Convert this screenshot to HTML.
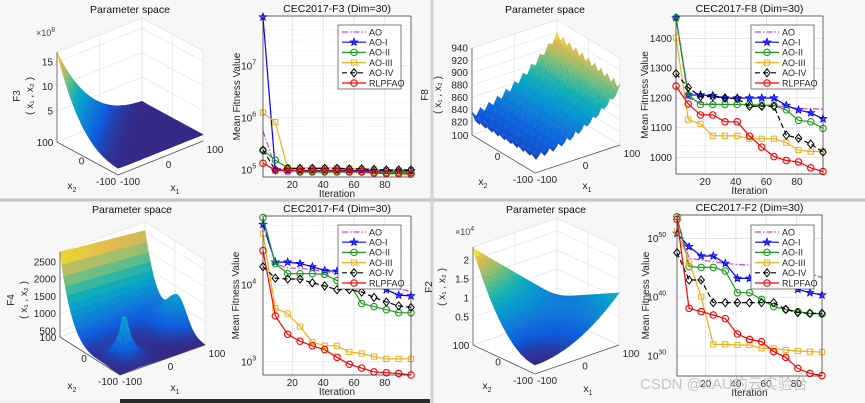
<!DOCTYPE html>
<html><head><meta charset="utf-8"><style>
html,body{margin:0;padding:0;background:#f0f0f0;}
svg{display:block;font-family:"Liberation Sans","Noto Sans CJK SC",sans-serif;}
</style></head><body>
<svg id="chart" width="865" height="403" viewBox="0 0 865 403" xmlns="http://www.w3.org/2000/svg">
<rect x="0" y="0" width="865" height="403" fill="#f2f2f2"/>
<rect x="0" y="0" width="430" height="198" fill="#f7f7f7"/>
<rect x="434" y="0" width="431" height="198" fill="#f7f7f7"/>
<rect x="0" y="203" width="430" height="196" fill="#f7f7f7"/>
<rect x="434" y="203" width="431" height="200" fill="#f7f7f7"/>
<line x1="0" y1="200" x2="865" y2="200" stroke="#c4c4c4" stroke-width="3"/>
<line x1="432" y1="0" x2="432" y2="403" stroke="#d4d4d4" stroke-width="3"/>
<rect x="120" y="399" width="310" height="4" fill="#2a2a2a"/>
</svg>
<script>
// ---------- convergence data (log10 of mean fitness for log charts) ----------
const ITER=[1,9,17,25,33,41,49,57,65,73,81,89,97];
const SERIES_NAMES=['AO','AO-I','AO-II','AO-III','AO-IV','RLPFAO'];
// F3 (log10)
const f3AO  =[5.75,5.05,5.00,4.98,4.98,4.98,4.98,4.98,4.97,4.97,4.96,4.96,4.96];
const f3AOI =[7.94,5.00,4.99,4.99,4.99,4.99,4.99,4.99,4.99,4.98,4.98,4.98,4.98];
const f3AOII=[5.38,5.19,5.04,4.96,4.96,4.96,4.96,4.96,4.96,4.96,4.95,4.95,4.95];
const f3AOIII=[6.10,5.92,5.02,5.04,5.04,5.04,5.04,5.03,5.02,5.01,5.00,5.00,5.00];
const f3AOIV=[5.38,5.00,5.03,5.03,5.03,5.03,5.03,5.02,5.02,5.01,5.00,5.00,5.00];
const f3RL  =[5.13,5.00,4.98,4.98,4.98,4.98,4.98,4.97,4.97,4.94,4.93,4.93,4.92];
const f3Ticks=[5,6,7];
// F8 (linear)
const f8AO  =[1470,1200,1185,1180,1178,1178,1175,1175,1175,1170,1165,1163,1163];
const f8AOI =[1470,1210,1210,1208,1200,1200,1200,1200,1200,1175,1160,1150,1130];
const f8AOII=[1470,1210,1178,1178,1178,1178,1178,1175,1175,1160,1125,1120,1098];
const f8AOIII=[1403,1127,1113,1073,1073,1073,1063,1063,1063,1050,1025,1020,1020];
const f8AOIV=[1282,1235,1205,1205,1200,1198,1172,1172,1172,1075,1065,1045,1018];
const f8RL  =[1240,1180,1143,1143,1120,1120,1072,1035,1003,990,985,965,953];
const f8Ticks=[1000,1100,1200,1300,1400];
// F4 (log10)
const f4AO  =[4.80,4.28,4.22,4.22,4.20,4.18,4.15,4.12,4.10,4.05,4.00,3.95,3.92];
const f4AOI =[4.79,4.30,4.30,4.28,4.24,4.19,4.18,4.13,4.06,4.00,3.94,3.87,3.86];
const f4AOII=[4.88,4.28,4.15,4.15,4.15,4.14,4.06,4.02,3.76,3.72,3.68,3.64,3.64];
const f4AOIII=[4.67,3.70,3.63,3.46,3.26,3.21,3.21,3.13,3.11,3.07,3.04,3.04,3.04];
const f4AOIV=[4.24,4.09,4.08,4.08,4.03,3.99,3.94,3.94,3.91,3.84,3.78,3.73,3.71];
const f4RL  =[4.45,3.60,3.36,3.27,3.21,3.16,3.06,2.97,2.92,2.87,2.86,2.85,2.83];
const f4Ticks=[3,4];
// F2 (log10)
const f2AO  =[53.40,46.60,46.32,46.03,45.75,45.58,45.47,45.47,45.18,44.90,44.62,44.05,43.37];
const f2AOI =[50.85,48.58,47.00,47.00,45.75,43.20,43.20,42.92,42.63,42.07,41.33,40.76,40.37];
const f2AOII=[53.68,45.18,45.07,45.07,44.45,40.76,40.76,39.63,38.39,37.93,37.54,37.25,37.14];
const f2AOIII=[51.13,46.03,40.08,31.98,31.98,31.87,31.87,31.30,31.30,31.02,30.85,30.74,30.68];
const f2AOIV=[47.56,42.92,42.92,39.07,39.07,39.07,39.07,39.07,39.07,37.93,37.37,37.25,37.25];
const f2RL  =[53.23,38.10,37.54,36.97,36.35,33.74,32.83,32.44,30.74,29.77,27.90,27.05,26.66];
const f2Ticks=[30,40,50];
const XTICKS=[20,40,60,80];

const NS='http://www.w3.org/2000/svg';
const svg=document.getElementById('chart');
function mk(tag,attrs,parent){const e=document.createElementNS(NS,tag);for(const k in attrs)e.setAttribute(k,attrs[k]);(parent||svg).appendChild(e);return e;}
function txt(s,x,y,opts,parent){const e=mk('text',Object.assign({x:x,y:y,'font-size':10,fill:'#262626'},opts||{}),parent);e.textContent=s;return e;}
function sub(e,base,s){e.textContent='';const t1=document.createElementNS(NS,'tspan');t1.textContent=base;e.appendChild(t1);const t2=document.createElementNS(NS,'tspan');t2.setAttribute('font-size','7');t2.setAttribute('dy','3');t2.textContent=s;e.appendChild(t2);}

const STYLE=[
 {c:'#e040e0',dash:'6,2,1.5,2',m:null},
 {c:'#0000ff',dash:null,m:'star'},
 {c:'#1e9a1e',dash:null,m:'circle'},
 {c:'#edb120',dash:null,m:'square'},
 {c:'#000000',dash:'5,3',m:'diamond'},
 {c:'#ff0000',dash:null,m:'circle'}
];
function marker(type,x,y,c,g){
  let e=null;
  if(type==='circle'){e=mk('circle',{cx:x,cy:y,r:3.2,fill:'none',stroke:c,'stroke-width':1.1},g);}
  else if(type==='square'){e=mk('rect',{x:x-2.6,y:y-2.6,width:5.2,height:5.2,fill:'none',stroke:c,'stroke-width':1},g);}
  else if(type==='diamond'){e=mk('polygon',{points:`${x},${y-4} ${x+3.2},${y} ${x},${y+4} ${x-3.2},${y}`,fill:'none',stroke:c,'stroke-width':1},g);}
  else if(type==='star'){let p=[];for(let i=0;i<10;i++){const r=i%2?1.6:3.8;const a=-Math.PI/2+i*Math.PI/5;p.push((x+r*Math.cos(a)).toFixed(1)+','+(y+r*Math.sin(a)).toFixed(1));}
    e=mk('polygon',{points:p.join(' '),fill:c,'fill-opacity':0.5,stroke:c,'stroke-width':0.9},g);}
  if(e){
  }
}

function conv(cfg){
  const g=mk('g',{});
  
  
  const X=v=>cfg.px0+(v-1)/(96)*(cfg.px1-cfg.px0);
  const Y=v=>cfg.py1-(v-cfg.ymin)/(cfg.ymax-cfg.ymin)*(cfg.py1-cfg.py0);
  const bg=mk('rect',{x:cfg.px0,y:cfg.py0,width:cfg.px1-cfg.px0,height:cfg.py1-cfg.py0,fill:'#fff'},g);
  
  
  const minors=[];
  if(cfg.log){for(let d=Math.floor(cfg.ymin);d<cfg.ymax;d+=cfg.minorStep){ if(cfg.minorStep===1){for(let k=2;k<10;k++)minors.push(d+Math.log10(k));} else minors.push(d+cfg.minorStep/2);} }
  else{for(let v=900;v<1500;v+=20)minors.push(v);}
  minors.forEach(v=>{if(v>cfg.ymin&&v<cfg.ymax){const l=mk('line',{x1:cfg.px0,x2:cfg.px1,y1:Y(v),y2:Y(v),stroke:'#e4e4e4','stroke-width':0.6,'stroke-dasharray':'1,1.5'},g);
    
    }});
  cfg.yticks.forEach(v=>{const l=mk('line',{x1:cfg.px0,x2:cfg.px1,y1:Y(v),y2:Y(v),stroke:'#dcdcdc','stroke-width':0.7},g);
    
    
    const t=txt(cfg.log?'10':String(v),cfg.px0-4-(cfg.log?String(v).length*4:0),Y(v)+3.5,{'text-anchor':'end'},g);
    
    
    if(cfg.log){const ts=document.createElementNS(NS,'tspan');ts.setAttribute('font-size','7');ts.setAttribute('dy','-5');ts.textContent=String(v);t.appendChild(ts);t.setAttribute('x',cfg.px0-3-String(v).length*3.9);}
  });
  XTICKS.forEach(v=>{const l=mk('line',{x1:X(v),x2:X(v),y1:cfg.py0,y2:cfg.py1,stroke:'#dcdcdc','stroke-width':0.7},g);
    
    
    const t=txt(String(v),X(v),cfg.py1+11,{'text-anchor':'middle'},g);
    
    });
  cfg.series.forEach((arr,si)=>{
    const st=STYLE[si];
    const pts=arr.map((v,i)=>X(ITER[i]).toFixed(1)+','+Y(v).toFixed(1)).join(' ');
    const pl=mk('polyline',{points:pts,fill:'none',stroke:st.c,'stroke-width':1.2},g);
    if(st.dash)pl.setAttribute('stroke-dasharray',st.dash);
    
    
    if(st.m)arr.forEach((v,i)=>marker(st.m,X(ITER[i]),Y(v),st.c,g));
  });
  const fr=mk('rect',{x:cfg.px0,y:cfg.py0,width:cfg.px1-cfg.px0,height:cfg.py1-cfg.py0,fill:'none',stroke:'#262626','stroke-width':0.7},g);
  
  
  const tt=txt(cfg.title,(cfg.px0+cfg.px1)/2,cfg.py0-4,{'text-anchor':'middle','font-size':10.5,fill:'#111'},g);
  
  
  const xl=txt('Iteration',(cfg.px0+cfg.px1)/2,cfg.py1+20,{'text-anchor':'middle','font-size':10},g);
  
  
  const yl=txt('Mean Fitness Value',0,0,{'text-anchor':'middle','font-size':10,transform:`translate(${cfg.ylx},${(cfg.py0+cfg.py1)/2}) rotate(-90)`},g);
  
  
  const lg=mk('g',{},g);
  
  
  const lb=mk('rect',{x:cfg.lx,y:cfg.ly,width:63,height:64,fill:'#fff',stroke:'#262626','stroke-width':0.6},lg);
  
  
  SERIES_NAMES.forEach((n,i)=>{const st=STYLE[i];const yy=cfg.ly+7+i*10.2;
    const ln=mk('line',{x1:cfg.lx+4,x2:cfg.lx+28,y1:yy,y2:yy,stroke:st.c,'stroke-width':1.2},lg);
    if(st.dash)ln.setAttribute('stroke-dasharray',st.dash);
    
    
    if(st.m)marker(st.m,cfg.lx+16,yy,st.c,lg);
    const t=txt(n,cfg.lx+31,yy+3.3,{'font-size':9},lg);
    
    });
}

conv({name:'f3-convergence-chart',title:'CEC2017-F3 (Dim=30)',px0:263,px1:411,py0:16,py1:177,ymin:4.865,ymax:7.96,log:true,minorStep:1,yticks:f3Ticks,ylx:240,lx:338,ly:25,series:[f3AO,f3AOI,f3AOII,f3AOIII,f3AOIV,f3RL]});
conv({name:'f8-convergence-chart',title:'CEC2017-F8 (Dim=30)',px0:676,px1:823,py0:16,py1:174,ymin:944.5,ymax:1475.6,log:false,yticks:f8Ticks,ylx:648,lx:751,ly:25,series:[f8AO,f8AOI,f8AOII,f8AOIII,f8AOIV,f8RL]});
conv({name:'f4-convergence-chart',title:'CEC2017-F4 (Dim=30)',px0:263,px1:411,py0:216,py1:375,ymin:2.83,ymax:4.9,log:true,minorStep:1,yticks:f4Ticks,ylx:239,lx:338,ly:225,series:[f4AO,f4AOI,f4AOII,f4AOIII,f4AOIV,f4RL]});
conv({name:'f2-convergence-chart',title:'CEC2017-F2 (Dim=30)',px0:677,px1:822,py0:215,py1:376,ymin:26.6,ymax:53.97,log:true,minorStep:10,yticks:f2Ticks,ylx:649,lx:751,ly:225,series:[f2AO,f2AOI,f2AOII,f2AOIII,f2AOIV,f2RL]});

// ---------- 3D surfaces ----------
const PARULA=[[0,53,42,135],[0.125,15,92,221],[0.25,18,125,216],[0.375,7,156,207],[0.5,21,177,180],[0.625,89,189,140],[0.75,165,190,107],[0.875,225,185,82],[1,249,251,14]];
function parula(t){t=Math.max(0,Math.min(1,t));for(let i=1;i<PARULA.length;i++){if(t<=PARULA[i][0]){const a=PARULA[i-1],b=PARULA[i];const u=(t-a[0])/(b[0]-a[0]);return `rgb(${Math.round(a[1]+u*(b[1]-a[1]))},${Math.round(a[2]+u*(b[2]-a[2]))},${Math.round(a[3]+u*(b[3]-a[3]))})`;}}return 'rgb(249,251,14)';}

function surf(cfg){
  const g=mk('g',{});
  
  
  const L=cfg.L,B=cfg.B,R=cfg.R,K=[L[0]+R[0]-B[0],L[1]+R[1]-B[1]];
  const gp=(a,b)=>[B[0]+a*(R[0]-B[0])+b*(L[0]-B[0]),B[1]+a*(R[1]-B[1])+b*(L[1]-B[1])];
  const P=(a,b,z)=>{const p=gp(a,b);return [p[0],p[1]-(z-cfg.zfloor)*cfg.k];};
  const H=cfg.H;
  const w1=mk('polygon',{points:`${L[0]},${L[1]} ${K[0]},${K[1]} ${K[0]},${K[1]-H} ${L[0]},${L[1]-H}`,fill:'#fff',stroke:'#e2e2e2','stroke-width':0.7},g);
  
  
  const w2=mk('polygon',{points:`${K[0]},${K[1]} ${R[0]},${R[1]} ${R[0]},${R[1]-H} ${K[0]},${K[1]-H}`,fill:'#fff',stroke:'#e2e2e2','stroke-width':0.7},g);
  
  
  const fl=mk('polygon',{points:`${L[0]},${L[1]} ${K[0]},${K[1]} ${R[0]},${R[1]} ${B[0]},${B[1]}`,fill:'#fff',stroke:'#e2e2e2','stroke-width':0.7},g);
  
  
  cfg.zticks.forEach(z=>{const dy=(z-cfg.zfloor)*cfg.k;
    const gl=mk('polyline',{points:`${L[0]},${L[1]-dy} ${K[0]},${K[1]-dy} ${R[0]},${R[1]-dy}`,fill:'none',stroke:'#e6e6e6','stroke-width':0.7},g);
    
    
    const t=txt(cfg.zfmt(z),L[0]-4,L[1]-dy+3.5,{'text-anchor':'end'},g);
    
    });
  const m1=gp(0.5,1),m2=gp(1,0.5);
  const v1=mk('line',{x1:m1[0],y1:m1[1],x2:m1[0],y2:m1[1]-H,stroke:'#e6e6e6','stroke-width':0.7},g);
  
  
  const v2=mk('line',{x1:m2[0],y1:m2[1],x2:m2[0],y2:m2[1]-H,stroke:'#e6e6e6','stroke-width':0.7},g);
  
  
  const N=cfg.N;const Z=[];let zmin=1e9,zmax=-1e9;
  for(let i=0;i<=N;i++){Z.push([]);for(let j=0;j<=N;j++){const z=cfg.f(i/N,j/N);Z[i].push(z);zmin=Math.min(zmin,z);zmax=Math.max(zmax,z);}}
  const sg=mk('g',{},g);
  
  
  for(let s=2*N-2;s>=0;s--){for(let i=0;i<N;i++){const j=s-i;if(j<0||j>=N)continue;
    const c=[[i,j],[i+1,j],[i+1,j+1],[i,j+1]].map(q=>P(q[0]/N,q[1]/N,Z[q[0]][q[1]]));
    const zav=(Z[i][j]+Z[i+1][j]+Z[i+1][j+1]+Z[i][j+1])/4;
    const col=parula((zav-zmin)/(zmax-zmin));
    const q=mk('polygon',{points:c.map(p=>p[0].toFixed(1)+','+p[1].toFixed(1)).join(' '),fill:col,stroke:col,'stroke-width':0.6},sg);
    
    }}
  const ax=mk('polyline',{points:`${L[0]},${L[1]-H} ${L[0]},${L[1]} ${B[0]},${B[1]} ${R[0]},${R[1]}`,fill:'none',stroke:'#555','stroke-width':0.8},g);
  
  
  const lab=[['100',gp(0,1),-12,4],['0',gp(0,0.5),-6,6],['-100',gp(0,0),-12,10],['-100',gp(0,0),12,10],['0',gp(0.5,0),8,10],['100',gp(1,0),12,12]];
  lab.forEach(l=>{const t=txt(l[0],l[1][0]+l[2],l[1][1]+l[3],{'text-anchor':'middle'},g);
    
    });
  const x2=txt('',cfg.x2p[0],cfg.x2p[1],{'text-anchor':'middle','font-size':10.5},g);sub(x2,'x','2');
  
  
  const x1=txt('',cfg.x1p[0],cfg.x1p[1],{'text-anchor':'middle','font-size':10.5},g);sub(x1,'x','1');
  
  
  const fz=txt(cfg.fname,0,0,{'text-anchor':'middle',transform:`translate(${cfg.zl[0]},${cfg.zl[1]}) rotate(-90)`},g);
  
  
  const fz2=txt('( x₁ , x₂ )',0,0,{'text-anchor':'middle',transform:`translate(${cfg.zl[0]+13},${cfg.zl[1]}) rotate(-90)`},g);
  
  
  const tt=txt('Parameter space',cfg.tp[0],cfg.tp[1],{'text-anchor':'middle','font-size':10.5,fill:'#111'},g);
  
  
  if(cfg.exp){const e=txt('×10',cfg.exp[0],cfg.exp[1],{'font-size':9,fill:'#444'},g);const ts=document.createElementNS(NS,'tspan');ts.setAttribute('font-size','7');ts.setAttribute('dy','-4');ts.textContent=cfg.exp[2];e.appendChild(ts);
    
    }
}
surf({name:'f3-surface-plot',L:[57,142],B:[118,175],R:[203,141],k:4.9,zfloor:-1.3,H:90,N:30,
  f:(a,b)=>{const u=(b-a);return 17*Math.pow(Math.max(0,(u+0.2)/1.2),3);},
  zticks:[5,10,15],zfmt:z=>String(z),fname:'F3',zl:[20,96],x2p:[72,189],x1p:[175,191],tp:[130,13],exp:[36,36,'8']});
surf({name:'f8-surface-plot',L:[472,135],B:[535,173],R:[620,145],k:0.617,zfloor:799,H:87,N:40,
  f:(a,b)=>{const x1=a*200-100,x2=b*200-100;return 826+62*a*a+22*a*b+5*(Math.cos(2*Math.PI*x1/20)+Math.cos(2*Math.PI*x2/20));},
  zticks:[820,840,860,880,900,920,940],zfmt:z=>String(z),fname:'F8',zl:[428,95],x2p:[483,185],x1p:[587,189],tp:[545,13]});
surf({name:'f4-surface-plot',L:[60,337],B:[120,375],R:[205,345],k:0.0346,zfloor:327,H:85,N:34,
  f:(a,b)=>330+2450*Math.pow(b,5)*(1-0.1*a)+1500*Math.exp(-Math.sqrt((a-0.25)*(a-0.25)+(b-0.28)*(b-0.28))/0.07)+900*Math.exp(-((a-1)*(a-1))/0.05)*Math.exp(-((b-0.45)*(b-0.45))/0.04),
  zticks:[500,1000,1500,2000,2500],zfmt:z=>String(z),fname:'F4',zl:[14,300],x2p:[72,389],x1p:[175,391],tp:[132,213]});
surf({name:'f2-surface-plot',L:[473,345],B:[535,374],R:[619,345],k:38,zfloor:-0.24,H:98,N:30,
  f:(a,b)=>2.3*b*b*(1-a)+1.13*a*a*(1-b)+0.26*a*b,
  zticks:[0.5,1,1.5,2],zfmt:z=>String(z),fname:'F2',zl:[432,287],x2p:[487,389],x1p:[588,392],tp:[546,213],exp:[455,235,'4']});

const wm=txt('CSDN @KAU的云实验台',640,389,{'font-size':15,fill:'#bdbdbd','fill-opacity':0.85});


</script>
</body></html>
